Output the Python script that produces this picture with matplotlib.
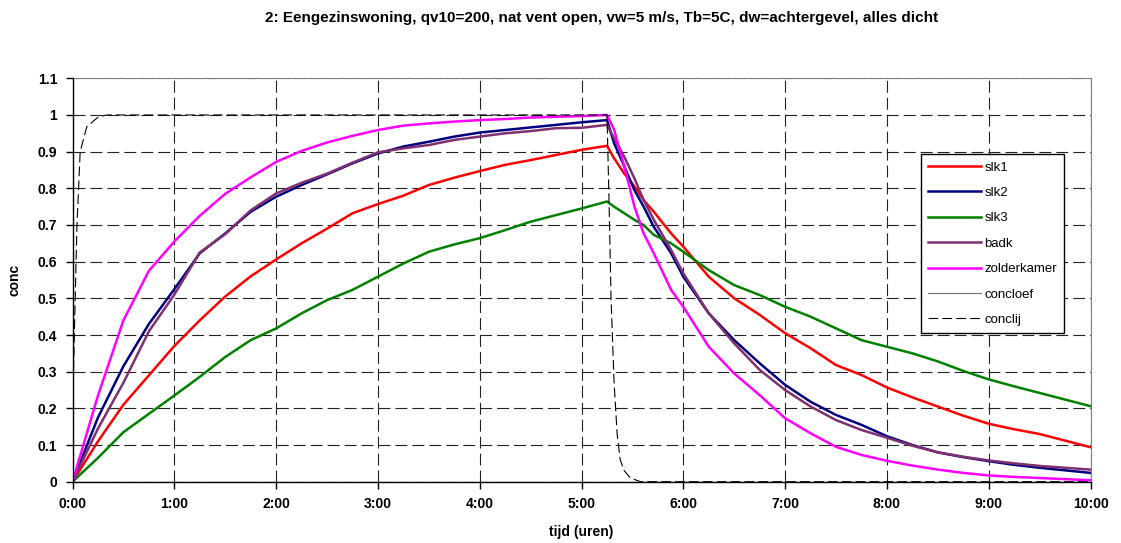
import matplotlib
matplotlib.use('Agg')
import matplotlib.pyplot as plt

plt.rcParams['font.family'] = ['Liberation Sans', 'DejaVu Sans']
plt.rcParams['lines.scale_dashes'] = False

# tijd in uren
tijd = [0, 0.25, 0.5, 0.75, 1, 1.25, 1.5, 1.75, 2, 2.25, 2.5, 2.75, 3, 3.25,
        3.5, 3.75, 4, 4.25, 4.5, 4.75, 5, 5.25, 5.32, 5.42, 5.52, 5.61, 5.71,
        5.88, 6, 6.25, 6.5, 6.75, 7, 7.25, 7.5, 7.75, 8, 8.25, 8.5, 8.75, 9,
        9.25, 9.5, 9.75, 10]

slk1 = [0, .11, .21, .29, .37, .44, .505, .56, .606, .65, .69, .732, .757, .78,
        .809, .829, .847, .864, .877, .891, .905, .916, .882, .84, .805, .768,
        .736, .677, .641, .559, .5, .455, .405, .364, .318, .291, .257, .23,
        .205, .18, .158, .143, .13, .112, .094]
slk2 = [0, .175, .315, .43, .525, .623, .677, .736, .777, .809, .838, .868,
        .895, .914, .927, .941, .952, .959, .966, .973, .98, .986, .923, .86,
        .795, .75, .695, .623, .559, .459, .386, .323, .264, .218, .182, .155,
        .124, .1, .08, .067, .056, .046, .038, .031, .024]
slk3 = [0, .065, .135, .185, .235, .286, .34, .386, .418, .459, .495, .523,
        .559, .595, .627, .647, .664, .686, .709, .727, .745, .764, .75, .732,
        .714, .7, .673, .65, .627, .577, .536, .509, .477, .45, .418, .386,
        .368, .35, .328, .302, .279, .26, .242, .224, .206]
badk = [0, .145, .27, .41, .51, .625, .675, .74, .786, .815, .84, .87, .898,
        .909, .918, .932, .941, .95, .956, .964, .965, .973, .936, .886, .827,
        .768, .714, .632, .568, .459, .377, .305, .25, .205, .168, .141, .12,
        .098, .08, .068, .058, .05, .043, .038, .033]
zolderkamer = [0, .235, .44, .575, .655, .725, .785, .83, .872, .902, .925, .943,
               .959, .971, .977, .982, .986, .989, .993, .995, .997, 1.0, .96,
               .86, .75, .677, .623, .523, .477, .368, .295, .236, .173, .132,
               .095, .073, .057, .044, .033, .024, .017, .013, .01, .007, .004]
concloef = [0] * len(tijd)

tijd_lij = [0, 0.01, 0.043, 0.075, 0.14, 0.255, 0.34, 5.25, 5.27, 5.29, 5.32,
            5.35, 5.38, 5.42, 5.48, 5.58, 10]
conclij = [0, 0.31, 0.695, 0.9, 0.968, 0.995, 1.0, 1.0, 0.77, 0.5, 0.27, 0.13,
           0.06, 0.03, 0.01, 0, 0]

xticks = list(range(11))
xlabels = ['%d:00' % h for h in xticks]
yticks = [0, .1, .2, .3, .4, .5, .6, .7, .8, .9, 1, 1.1]
ylabels = ['0', '0.1', '0.2', '0.3', '0.4', '0.5', '0.6', '0.7', '0.8', '0.9', '1', '1.1']

fig = plt.figure(figsize=(11.21, 5.43), dpi=100)
ax = fig.add_axes([0.0647, 0.1129, 0.9081, 0.7429])

ax.plot(tijd, slk1, color='#FF0000', lw=1.8, label='slk1')
ax.plot(tijd, slk2, color='#000080', lw=1.8, label='slk2')
ax.plot(tijd, slk3, color='#008000', lw=1.8, label='slk3')
ax.plot(tijd, badk, color='#803070', lw=1.8, label='badk')
ax.plot(tijd, zolderkamer, color='#FF00FF', lw=1.8, label='zolderkamer')
ax.plot(tijd, concloef, color='#707070', lw=0.8, label='concloef', zorder=1)
ax.plot(tijd_lij, conclij, color='black', lw=0.8, dashes=(7, 3), label='conclij')

ax.set_xlim(0, 10)
ax.set_ylim(0, 1.1)
ax.set_xticks(xticks)
ax.set_xticklabels(xlabels, fontweight='bold', fontsize=10)
ax.set_yticks(yticks)
ax.set_yticklabels(ylabels, fontweight='bold', fontsize=10)
ax.tick_params(direction='out', length=5, width=1, pad=6)
ax.grid(True, color='#222222', linewidth=0.8, dashes=(8.6, 3.6))
ax.set_axisbelow(True)

for s in ['top', 'right']:
    ax.spines[s].set_color('#808080')
    ax.spines[s].set_linewidth(0.8)
for s in ['left', 'bottom']:
    ax.spines[s].set_color('black')
    ax.spines[s].set_linewidth(1.0)
    ax.spines[s].set_zorder(5)

ax.set_xlabel('tijd (uren)', fontweight='bold', fontsize=10, labelpad=10)
ax.set_ylabel('conc', fontweight='bold', fontsize=10, labelpad=12)

fig.text(0.537, 0.966, '2: Eengezinswoning, qv10=200, nat vent open, vw=5 m/s, Tb=5C, dw=achtergevel, alles dicht',
         ha='center', va='center', fontweight='bold', fontsize=11)

leg = ax.legend(loc='upper left', bbox_to_anchor=(0.8335, 0.8123), fontsize=9.5,
                frameon=True, fancybox=False, edgecolor='black', framealpha=1,
                handlelength=4.0, labelspacing=1.0, borderpad=0.55,
                handletextpad=0.25, borderaxespad=0)
leg.get_frame().set_linewidth(1.0)

fig.savefig('out.png', dpi=100)
